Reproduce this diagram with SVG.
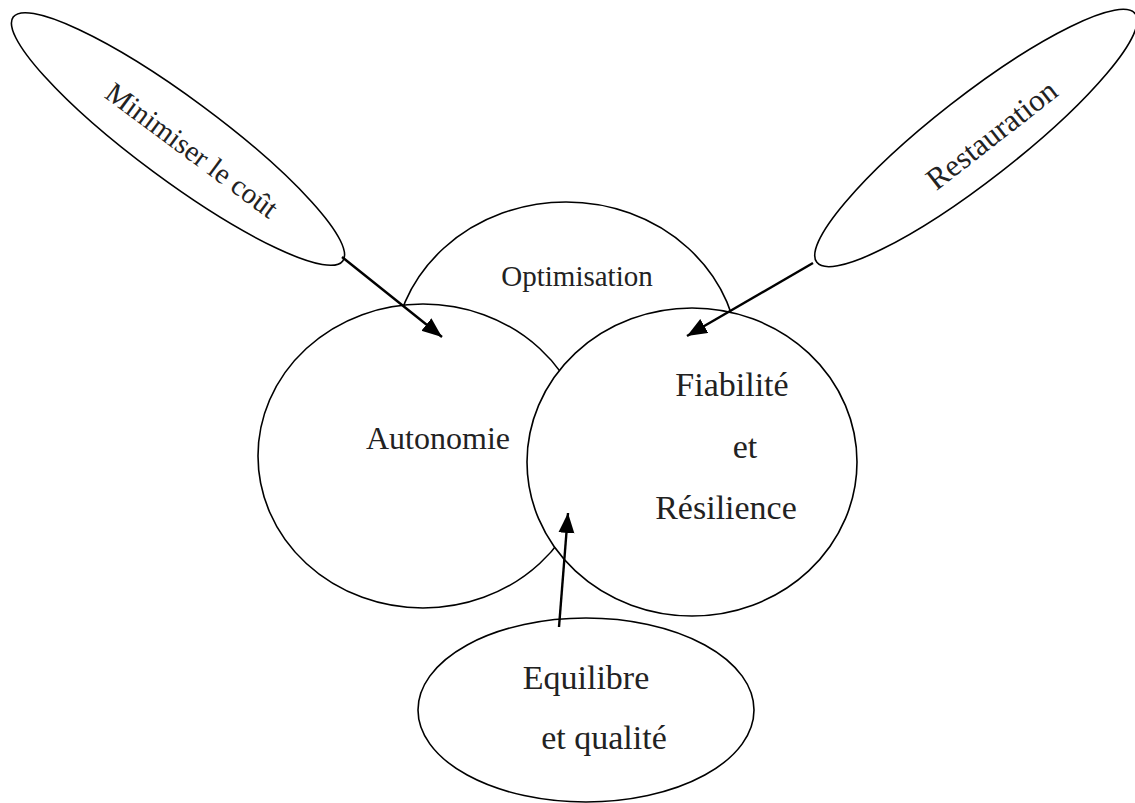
<svg xmlns="http://www.w3.org/2000/svg" width="1135" height="803" viewBox="0 0 1135 803">
<defs>
<style>
.shape{fill:#fff;stroke:#000;stroke-width:1.6}
.lbl{font-family:"Liberation Serif","Times New Roman",serif;fill:#222;text-anchor:middle}
.conn{stroke:#000;stroke-width:2.4;fill:none;marker-end:url(#ah)}
</style>
<marker id="ah" markerUnits="userSpaceOnUse" markerWidth="22" markerHeight="18" refX="20" refY="8" orient="auto">
<path d="M0,0 L20,8 L0,16 Z" fill="#000"/>
</marker>
</defs>
<rect width="1135" height="803" fill="#fff"/>
<g id="optimisation">
<ellipse class="shape" cx="566" cy="360" rx="173" ry="158"/>
<text class="lbl" x="577" y="286" font-size="29">Optimisation</text>
</g>
<g id="autonomie">
<ellipse class="shape" cx="423" cy="456" rx="165" ry="152"/>
<text class="lbl" x="438" y="449" font-size="32">Autonomie</text>
</g>
<g id="fiabilite">
<ellipse class="shape" cx="692" cy="462" rx="165" ry="154"/>
<text class="lbl" font-size="34"><tspan x="732" y="396">Fiabilité</tspan><tspan x="745" y="458">et</tspan><tspan x="726" y="519">Résilience</tspan></text>
</g>
<g id="equilibre">
<ellipse class="shape" cx="586" cy="710" rx="168" ry="92"/>
<text class="lbl" font-size="34"><tspan x="586" y="689">Equilibre</tspan><tspan x="604" y="749">et qualité</tspan></text>
</g>
<g id="minimiser">
<ellipse class="shape" cx="178" cy="139" rx="205" ry="41" transform="rotate(36.5 178 139)"/>
<text class="lbl" font-size="29" transform="translate(186 158) rotate(36.5)">Minimiser le coût</text>
</g>
<g id="restauration">
<ellipse class="shape" cx="976" cy="138" rx="202" ry="42" transform="rotate(-38 976 138)"/>
<text class="lbl" font-size="31" transform="translate(998 143) rotate(-38)">Restauration</text>
</g>
<g id="connectors">
<line class="conn" x1="342" y1="257" x2="442" y2="337"/>
<line class="conn" x1="813" y1="263" x2="687" y2="336"/>
<line class="conn" x1="559" y1="627" x2="568" y2="513"/>
</g>
</svg>
